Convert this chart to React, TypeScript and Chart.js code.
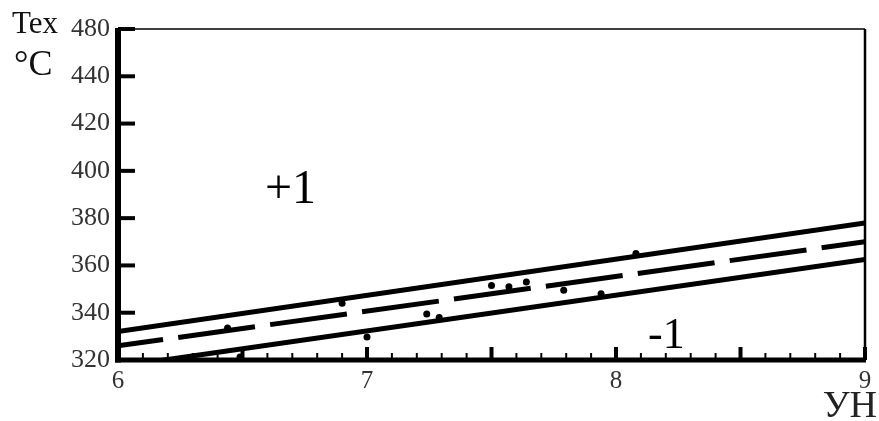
import React, { useEffect, useRef } from "react";
import { Chart, registerables } from "chart.js";

Chart.register(...registerables);

// ---- data ----
const lineX = [6, 9];
const upperBound = [332, 378];
const centerLine = [326, 370];
const lowerBound = [317.2, 362.5];
const pointX = [6.44, 6.49, 6.9, 7.0, 7.24, 7.29, 7.5, 7.57, 7.64, 7.79, 7.94, 8.08];
const pointY = [333.5, 321.3, 344, 329.7, 339.5, 338, 351.5, 351, 353, 349.5, 348, 365];
const yTickLabels = ["320", "340", "360", "380", "400", "420", "440", "480"];
const xTickLabels = ["6", "7", "8", "9"];
const yMin = 320;
const yMax = 460;
const xMin = 6;
const xMax = 9;

const SERIF = "'Liberation Serif', 'Times New Roman', serif";

function seg(ctx: CanvasRenderingContext2D, x1: number, y1: number, x2: number, y2: number) {
  ctx.beginPath();
  ctx.moveTo(x1, y1);
  ctx.lineTo(x2, y2);
  ctx.stroke();
}

const framePlugin = {
  id: "frame",
  afterDraw(chart: any) {
    const { ctx, chartArea: a, scales } = chart;
    const x = scales.x;
    const y = scales.y;
    ctx.save();
    ctx.strokeStyle = "#000";
    ctx.lineCap = "butt";
    // top thin border
    ctx.lineWidth = 1.5;
    seg(ctx, a.left, a.top, a.right, a.top);
    // right border
    ctx.lineWidth = 2.5;
    seg(ctx, a.right, a.top, a.right, a.bottom);
    // left axis
    ctx.lineWidth = 6;
    seg(ctx, a.left, a.top - 1, a.left, a.bottom + 2.5);
    // bottom axis
    ctx.lineWidth = 5;
    seg(ctx, a.left - 3, a.bottom, a.right + 1, a.bottom);
    // y ticks (inward)
    ctx.lineWidth = 4;
    y.ticks.forEach((t: any) => {
      const py = y.getPixelForValue(t.value);
      seg(ctx, a.left, py, a.left + 17, py);
    });
    // x ticks (inward)
    x.ticks.forEach((t: any) => {
      const v = t.value;
      const px = x.getPixelForValue(v);
      const major = Math.abs(v * 2 - Math.round(v * 2)) < 1e-6;
      ctx.lineWidth = major ? 4 : 2;
      seg(ctx, px, a.bottom, px, a.bottom - (major ? 13 : 7));
    });

    // texts
    ctx.fillStyle = "#111";
    ctx.textBaseline = "alphabetic";
    ctx.textAlign = "left";
    ctx.font = `31px ${SERIF}`;
    ctx.fillText("Tex", 12, 33);
    ctx.font = `36px ${SERIF}`;
    ctx.fillText("°C", 14, 75);
    ctx.fillStyle = "#000";
    ctx.font = `48px ${SERIF}`;
    ctx.fillText("+1", 265, 203);
    ctx.font = `44px ${SERIF}`;
    ctx.fillText("-1", 648, 348);
    ctx.fillStyle = "#222";
    ctx.textAlign = "right";
    ctx.font = `38px ${SERIF}`;
    ctx.fillText("УН", 877, 417);
    ctx.restore();
  },
};

export default function App() {
  const ref = useRef<HTMLCanvasElement | null>(null);

  useEffect(() => {
    if (!ref.current) return;
    const toXY = (xs: number[], ys: number[]) => xs.map((v, i) => ({ x: v, y: ys[i] }));
    const chart = new Chart(ref.current, {
      type: "line",
      data: {
        datasets: [
          {
            label: "upper",
            data: toXY(lineX, upperBound),
            borderColor: "#000",
            borderWidth: 5,
            pointRadius: 0,
            fill: false,
          },
          {
            label: "center",
            data: toXY(lineX, centerLine),
            borderColor: "#000",
            borderWidth: 5,
            borderDash: [77.5, 15.3],
            borderDashOffset: 32,
            pointRadius: 0,
            fill: false,
          },
          {
            label: "lower",
            data: toXY(lineX, lowerBound),
            borderColor: "#000",
            borderWidth: 5,
            pointRadius: 0,
            fill: false,
          },
          {
            label: "points",
            data: toXY(pointX, pointY),
            showLine: false,
            pointRadius: 3.5,
            pointBackgroundColor: "#000",
            pointBorderColor: "#000",
            pointBorderWidth: 0,
          },
        ],
      },
      options: {
        animation: false,
        responsive: false,
        maintainAspectRatio: false,
        layout: { padding: { top: 29, right: 14, left: 0, bottom: 0 } },
        plugins: {
          legend: { display: false },
          tooltip: { enabled: false },
        },
        scales: {
          x: {
            type: "linear",
            min: xMin,
            max: xMax,
            grid: { display: false, drawTicks: false },
            border: { display: false },
            ticks: {
              stepSize: 0.1,
              autoSkip: false,
              maxRotation: 0,
              padding: 6,
              color: "#333",
              font: { family: SERIF, size: 25 },
              callback: (v: any) => {
                const r = Math.round(v);
                if (Math.abs(v - r) < 1e-6) return xTickLabels[r - xMin];
                return "";
              },
            },
            afterFit: (s: any) => {
              s.height = 61;
            },
          },
          y: {
            type: "linear",
            min: yMin,
            max: yMax,
            grid: { display: false, drawTicks: false },
            border: { display: false },
            ticks: {
              stepSize: 20,
              padding: 8,
              color: "#333",
              font: { family: SERIF, size: 26 },
              callback: (_v: any, i: number) => yTickLabels[i],
            },
            afterFit: (s: any) => {
              s.width = 118;
            },
          },
        },
      },
      plugins: [framePlugin],
    });
    return () => chart.destroy();
  }, []);

  return (
    <div style={{ position: "fixed", left: 0, top: 0, width: 879, height: 421, background: "#fff" }}>
      <canvas ref={ref} width={879} height={421} />
    </div>
  );
}
